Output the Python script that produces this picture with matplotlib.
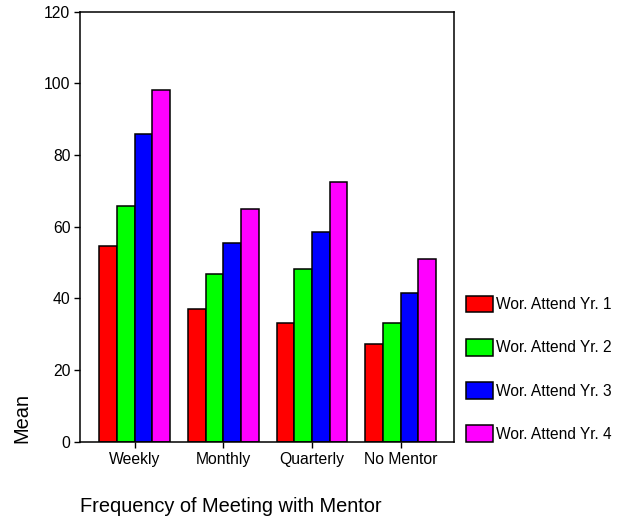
import numpy as np
import matplotlib
matplotlib.use('Agg')
import matplotlib.pyplot as plt

plt.rcParams['font.family'] = ['Liberation Sans', 'DejaVu Sans']

groups = ['Weekly', 'Monthly', 'Quarterly', 'No Mentor']
series = ['Wor. Attend Yr. 1', 'Wor. Attend Yr. 2', 'Wor. Attend Yr. 3', 'Wor. Attend Yr. 4']
yr1 = [54.5, 37.0, 33.2, 27.1]
yr2 = [65.6, 46.7, 48.2, 33.2]
yr3 = [85.7, 55.4, 58.6, 41.4]
yr4 = [98.1, 64.9, 72.5, 50.9]
colors = ['#ff0000', '#00ff00', '#0000ff', '#ff00ff']
yticks = [0, 20, 40, 60, 80, 100, 120]

fig = plt.figure(figsize=(6.28, 5.19), dpi=100)
ax = fig.add_axes([0.1266, 0.1493, 0.5963, 0.8285])

x = np.arange(len(groups))
w = 0.2
for i, (vals, name) in enumerate(zip([yr1, yr2, yr3, yr4], series)):
    ax.bar(x + (i - 1.5) * w, vals, w, color=colors[i], edgecolor='black',
           linewidth=1.1, label=name)

ax.set_xlim(-0.62, 3.6)
ax.set_ylim(0, 120)
ax.set_yticks(yticks)
ax.set_xticks(x)
ax.set_xticklabels(groups)
ax.tick_params(axis='both', labelsize=11.3, length=4, width=1, direction='out')
ax.tick_params(axis='y', pad=2.5)
for lab in ax.get_yticklabels():
    lab.set_verticalalignment('center_baseline')
for s in ax.spines.values():
    s.set_linewidth(1.1)

fig.text(0.035, 1 - 418 / 519, 'Mean', rotation=90, ha='center', va='center', fontsize=14.4)
fig.text(79.5 / 628, 1 - 507 / 519, 'Frequency of Meeting with Mentor', ha='left', va='center',
         fontsize=14.4)

fig.legend(loc='lower left', bbox_to_anchor=(466 / 628, 1 - 442 / 519), frameon=False,
           fontsize=11.2, handlelength=1.75, handleheight=1.28, labelspacing=1.7,
           handletextpad=0.15, borderpad=0, borderaxespad=0)

fig.savefig('out.png', dpi=100)
